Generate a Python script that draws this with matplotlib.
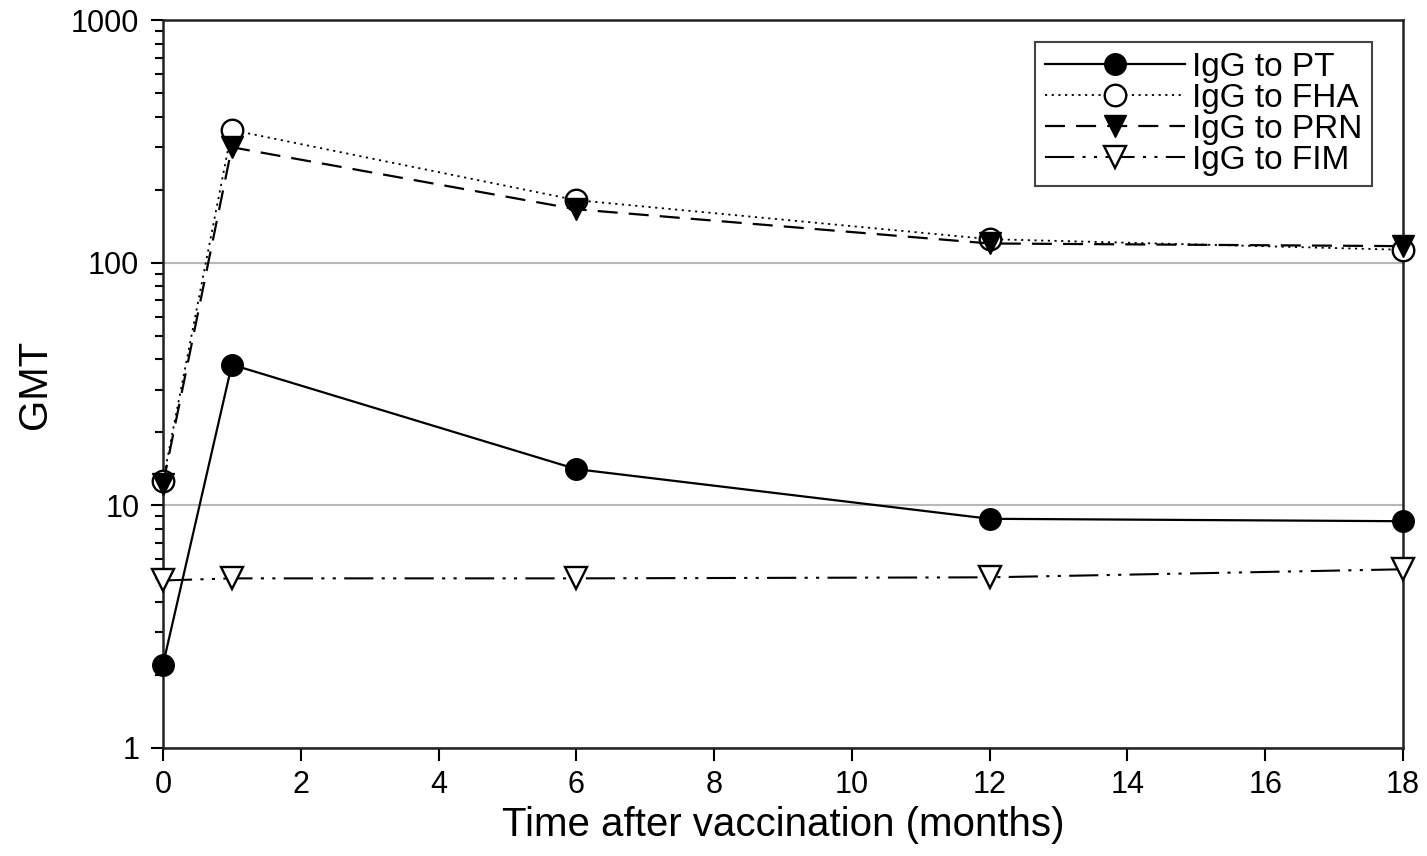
import numpy as np
import matplotlib.pyplot as plt

plt.rcParams['font.family'] = ['Liberation Sans', 'DejaVu Sans']

# months after vaccination and geometric mean titres
months = [0, 1, 6, 12, 18]
igg_pt = [2.2, 38, 14.1, 8.8, 8.6]
igg_fha = [12.6, 352, 181, 125, 113]
igg_prn = [12.2, 299, 166, 120, 117]
igg_fim = [4.9, 5.0, 5.0, 5.05, 5.45]

fig = plt.figure(figsize=(14.27, 8.56), dpi=100)
ax = fig.add_axes([0.1142, 0.1262, 0.869, 0.8504])

ms = 15.5
ax.plot(months, igg_pt, color='black', linestyle='-', linewidth=1.6,
        marker='o', markersize=ms, markerfacecolor='black', label='IgG to PT', clip_on=False, zorder=4)
ax.plot(months, igg_fha, color='black', linestyle=(0, (1.2, 2.5)), linewidth=1.3,
        marker='o', markersize=ms, markerfacecolor='white', markeredgewidth=1.7,
        label='IgG to FHA', clip_on=False, zorder=3)
ax.plot(months, igg_prn, color='black', linestyle=(0, (9, 5)), linewidth=1.6,
        marker='v', markersize=ms, markerfacecolor='black', label='IgG to PRN', clip_on=False, zorder=5)
ax.plot(months, igg_fim, color='black', linestyle=(0, (14, 4, 1.5, 4, 1.5, 4)), linewidth=1.5,
        marker='v', markersize=ms, markerfacecolor='white', markeredgewidth=1.7,
        label='IgG to FIM', clip_on=False, zorder=3)

ax.set_yscale('log')
ax.set_ylim(1, 1000)
ax.set_xlim(0, 18)
ax.set_xticks(np.arange(0, 19, 2))
ax.set_yticks([1, 10, 100, 1000])
ax.set_yticklabels(['1', '10', '100', '1000'])
ax.grid(axis='y', which='major', color='#b8b8b8', linewidth=1.5, zorder=0)

ax.tick_params(axis='both', which='major', direction='out', length=9, width=1.5, labelsize=22)
ax.tick_params(axis='y', which='minor', direction='out', length=6, width=1.5)
ax.tick_params(axis='x', pad=7)
ax.tick_params(axis='y', pad=8)
for sp in ax.spines.values():
    sp.set_linewidth(1.8)
    sp.set_color('#222222')

ax.set_xlabel('Time after vaccination (months)', fontsize=29, labelpad=4)
ax.set_ylabel('GMT', fontsize=29, labelpad=12)

leg = ax.legend(loc='upper right', bbox_to_anchor=(0.975, 0.97), fontsize=24,
                handlelength=4.2, labelspacing=0.0, handletextpad=0.2,
                borderpad=0.3, borderaxespad=0, fancybox=False, framealpha=1)
leg.get_frame().set_edgecolor('#444444')
leg.get_frame().set_linewidth(1.5)

plt.savefig('out.png', dpi=100)
